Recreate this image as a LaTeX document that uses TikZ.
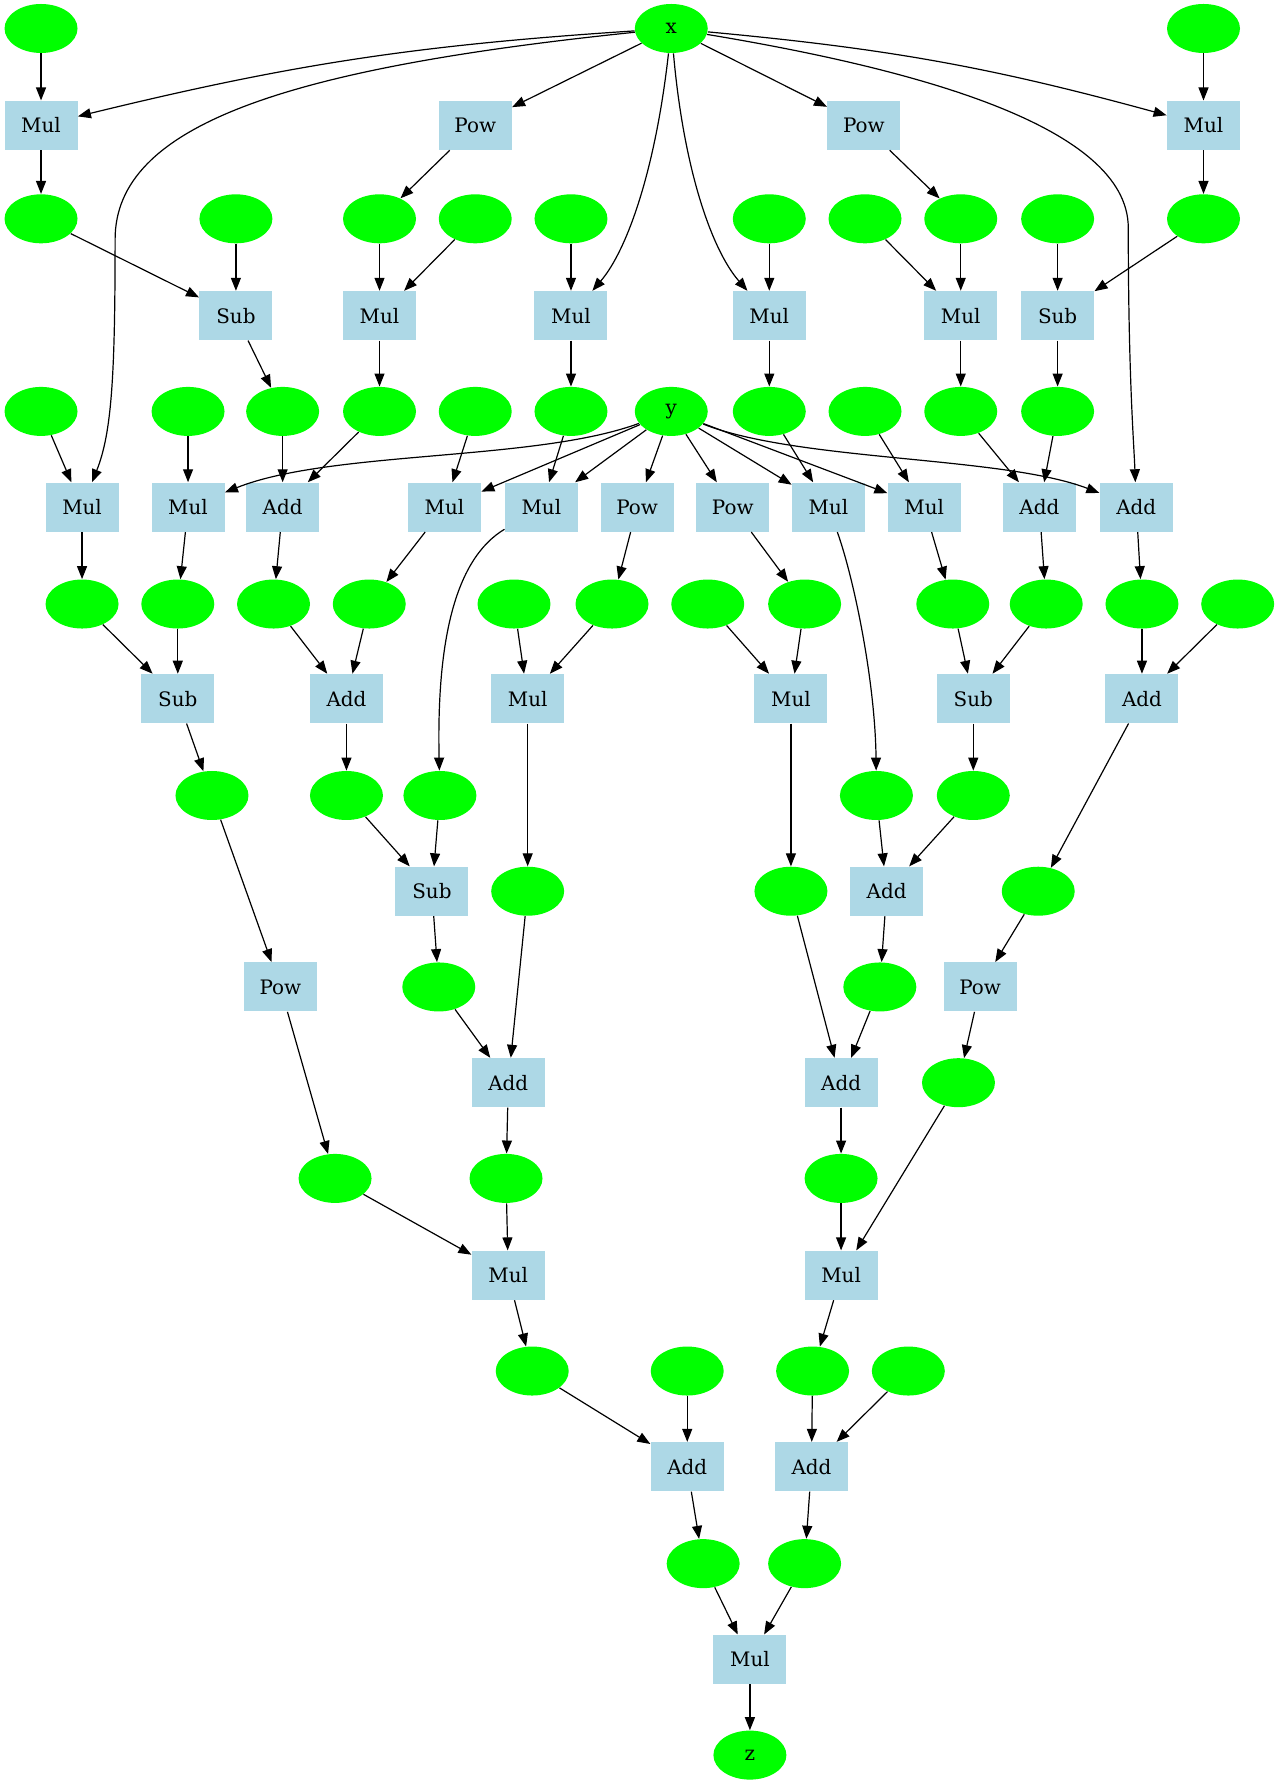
\documentclass[tikz,border=0pt]{standalone}
\usepackage{fontspec}
\setmainfont{DejaVu Serif}
\usepackage{tikz}
\usetikzlibrary{arrows.meta,shapes.geometric}
\definecolor{valgreen}{RGB}{0,255,0}
\definecolor{opblue}{RGB}{173,216,230}
\tikzstyle{val} = [ellipse,fill=valgreen,minimum width=36.5bp,minimum height=24.5bp,inner sep=0pt,font=\fontsize{10}{12}\selectfont]
\tikzstyle{op} = [rectangle,fill=opblue,minimum width=36.5bp,minimum height=24.5bp,inner sep=0pt,font=\fontsize{10}{12}\selectfont]
\tikzstyle{link} = [line width=0.6bp,-{Triangle[length=6.5bp,width=5bp]}]

\begin{document}
\begin{tikzpicture}[x=0.5699bp,y=-0.5699bp]
    \useasboundingbox (0,0) rectangle (1123,1568);

    % inputs and output
    \node[val] (x) at (589,25) {x};
    \node[val] (y) at (589,361) {y};
    \node[val] (z) at (658,1540) {z};

    % unnamed values
    \foreach \nm/\px/\py in {e0a/36/25, e0b/1056/25,
        e2a/36/192, e2b/207/192, e2c/333/192, e2d/417/192, e2e/501/192,
        e2f/675/192, e2g/759/192, e2h/843/192, e2i/928/192, e2j/1056/192,
        e4a/36/361, e4b/165/361, e4c/248/361, e4d/333/361, e4e/417/361,
        e4f/501/361, e4g/675/361, e4h/759/361, e4i/843/361, e4j/928/361,
        e6a/72/530, e6b/156/530, e6c/240/530, e6d/324/530, e6e/451/530, e6f/537/530,
        e6g/621/530, e6h/706/530, e6i/836/530, e6j/918/530, e6k/1002/530, e6l/1086/530,
        e8a/186/698, e8b/304/698, e8c/386/698, e8d/769/698, e8e/854/698,
        e9a/463/782, e9b/694/782, e9c/911/782,
        e10a/385/866, e10b/772/866, e11a/841/950,
        e12a/294/1034, e12b/444/1034, e12c/738/1034,
        e14a/467/1203, e14b/603/1203, e14c/713/1203, e14d/797/1203,
        e16a/617/1372, e16b/706/1372}
        \node[val] (\nm) at (\px,\py) {};

    % operations
    \foreach \nm/\lbl/\px/\py in {o1a/Mul/36/110, o1b/Pow/417/110, o1c/Pow/758/110, o1d/Mul/1056/110,
        o3a/Sub/207/277, o3b/Mul/333/277, o3c/Mul/501/277, o3d/Mul/675/277, o3e/Mul/843/277, o3f/Sub/928/277,
        o5a/Mul/72/445, o5b/Mul/165/445, o5c/Add/248/445, o5d/Mul/390/445, o5e/Mul/475/445, o5f/Pow/559/445,
        o5g/Pow/643/445, o5h/Mul/727/445, o5i/Mul/811/445, o5j/Add/912/445, o5k/Add/997/445,
        o7a/Sub/156/613, o7b/Add/304/613, o7c/Mul/463/613, o7d/Mul/694/613, o7e/Sub/854/613, o7f/Add/1002/613,
        o9a/Sub/379/782, o9b/Add/778/782, o10a/Pow/246/866, o10b/Pow/860/866,
        o11a/Add/446/950, o11b/Add/738/950, o13a/Mul/446/1119, o13b/Mul/738/1119,
        o15a/Add/603/1287, o15b/Add/712/1287, o17a/Mul/658/1456}
        \node[op] (\nm) at (\px,\py) {\lbl};

    % straight edges
    \foreach \a/\b in {e0a/o1a, x/o1b, x/o1c, e0b/o1d,
        o1a/e2a, o1b/e2c, o1c/e2h, o1d/e2j,
        e2a/o3a, e2b/o3a, e2c/o3b, e2d/o3b, e2e/o3c, e2f/o3d, e2g/o3e, e2h/o3e, e2i/o3f, e2j/o3f,
        o3a/e4c, o3b/e4d, o3c/e4f, o3d/e4g, o3e/e4i, o3f/e4j,
        e4a/o5a, e4b/o5b, e4c/o5c, e4d/o5c, e4e/o5d, e4f/o5e, e4g/o5h, e4h/o5i, e4i/o5j, e4j/o5j,
        y/o5d, y/o5e, y/o5f, y/o5g, y/o5h, y/o5i,
        o5a/e6a, o5b/e6b, o5c/e6c, o5d/e6d, o5f/e6f, o5g/e6h, o5i/e6i, o5j/e6j, o5k/e6k,
        e6a/o7a, e6b/o7a, e6c/o7b, e6d/o7b, e6e/o7c, e6f/o7c,
        e6g/o7d, e6h/o7d, e6i/o7e, e6j/o7e, e6k/o7f, e6l/o7f,
        o7a/e8a, o7b/e8b, o7c/e9a, o7d/e9b, o7e/e8e, o7f/e9c,
        e8a/o10a, e8b/o9a, e8c/o9a, e8d/o9b, e8e/o9b,
        o9a/e10a, e9a/o11a, e9b/o11b, o9b/e10b, e9c/o10b,
        o10a/e12a, e10a/o11a, e10b/o11b, o10b/e11a,
        o11a/e12b, o11b/e12c, e11a/o13b, e12a/o13a, e12b/o13a, e12c/o13b,
        o13a/e14a, o13b/e14c, e14a/o15a, e14b/o15a, e14c/o15b, e14d/o15b,
        o15a/e16a, o15b/e16b, e16a/o17a, e16b/o17a, o17a/z}
        \draw[link] (\a) -- (\b);

    % curved edges
    \draw[link] (x) to[bend right=5] (o1a);
    \draw[link] (x) to[bend left=5] (o1d);
    \draw[link] (x) .. controls (250,60) and (101,110) .. (101,210)
        .. controls (101,330) and (98,380) .. (o5a);
    \draw[link] (x) .. controls (575,150) and (550,220) .. (o3c);
    \draw[link] (x) .. controls (600,150) and (625,220) .. (o3d);
    \draw[link] (x) .. controls (800,60) and (990,110) .. (990,200)
        .. controls (990,330) and (995,390) .. (o5k);
    \draw[link] (y) .. controls (470,405) and (290,395) .. (o5b);
    \draw[link] (y) .. controls (700,405) and (880,400) .. (o5k);
    \draw[link] (o5e) .. controls (400,490) and (383,560) .. (e8c);
    \draw[link] (o5h) .. controls (750,510) and (768,600) .. (e8d);
\end{tikzpicture}
\end{document}
